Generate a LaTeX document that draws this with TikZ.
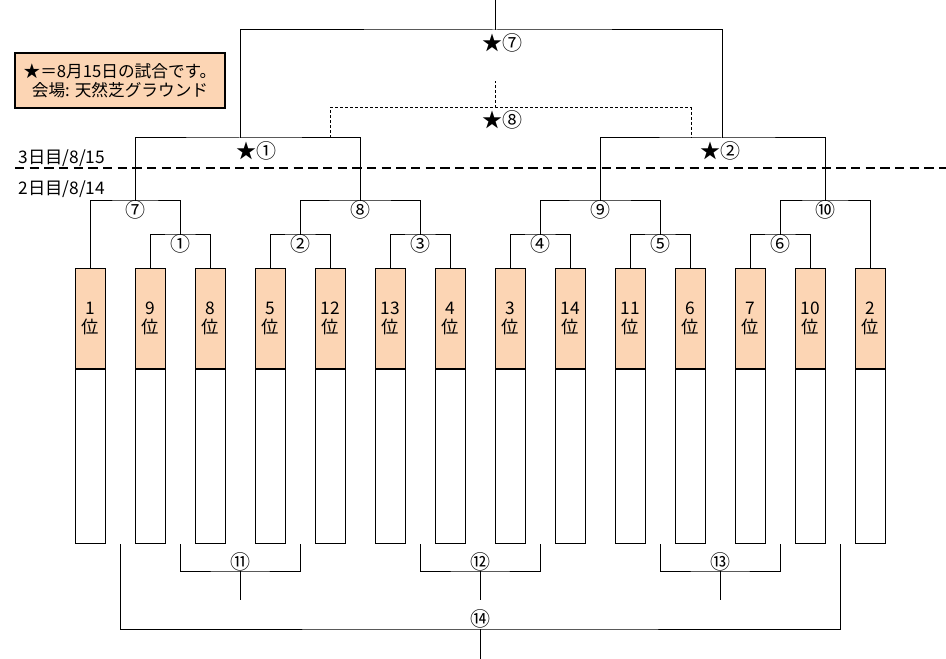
\documentclass[tikz,border=0pt]{standalone}
\usepackage{fontspec}
\setmainfont{Noto Sans CJK JP}
\usetikzlibrary{calc}
\definecolor{peach}{RGB}{252,213,180}
\begin{document}
\begin{tikzpicture}[x=0.75pt,y=-0.75pt,line width=0.75pt,
  rankbox/.style={draw,fill=peach,anchor=north,minimum width=22.5pt,minimum height=75pt,inner sep=0pt,align=center,font=\fontsize{13}{14}\selectfont},
  blankbox/.style={draw,fill=white,anchor=north,minimum width=22.5pt,minimum height=130.5pt,inner sep=0pt},
  lab/.style={inner sep=0pt,font=\fontsize{15}{16}\selectfont},
  daylab/.style={inner sep=0pt,anchor=west,font=\fontsize{13}{14}\selectfont}]
\useasboundingbox (0,0) rectangle (946,659);
% legend
\node[draw,fill=peach,line width=1.5pt,minimum width=157.5pt,minimum height=41.25pt,inner sep=0pt] (legend) at (120,80.5) {};
\node[inner sep=0pt,font=\fontsize{12.5}{13}\selectfont] (leg1) at (120,71) {★＝8月15日の試合です。};
\node[inner sep=0pt,font=\fontsize{12.5}{13}\selectfont] (leg2) at (120,90) {会場: 天然芝グラウンド};
% day separator
\coordinate (dl) at (15,168);
\coordinate (dr) at (946,168);
\draw[line width=1.5pt,dash pattern=on 7pt off 4pt] (dl) -- (dr);
\node[daylab] (d3) at (18,158) {3日目/8/15};
\node[daylab] (d2) at (18,189) {2日目/8/14};
% boxes
\foreach \r [count=\i from 0] in {1,9,8,5,12,13,4,3,14,11,6,7,10,2} {
  \node[rankbox] (r\i) at (90+60*\i,268) {\r\\位};
  \node[blankbox] (w\i) at (r\i.south) {};
}
% first round
\coordinate (m1) at (180,235);
\coordinate (m2) at (300,235);
\coordinate (m3) at (420,235);
\coordinate (m4) at (540,235);
\coordinate (m5) at (660,235);
\coordinate (m6) at (780,235);
\draw (r1.north) |- (m1) -| (r2.north);
\draw (r3.north) |- (m2) -| (r4.north);
\draw (r5.north) |- (m3) -| (r6.north);
\draw (r7.north) |- (m4) -| (r8.north);
\draw (r9.north) |- (m5) -| (r10.north);
\draw (r11.north) |- (m6) -| (r12.north);
% second round
\coordinate (m7) at (135,201);
\coordinate (m8) at (360,201);
\coordinate (m9) at (600,201);
\coordinate (m10) at (825,201);
\draw (r0.north) |- (m7) -| (m1);
\draw (m2) |- (m8) -| (m3);
\draw (m4) |- (m9) -| (m5);
\draw (m6) |- (m10) -| (r13.north);
% semi finals
\coordinate (s1) at (240,138);
\coordinate (s2) at (722,138);
\draw (m7) |- (s1) -| (m8);
\draw (m9) |- (s2) -| (m10);
% final
\coordinate (s7) at (495,30);
\coordinate (top) at (495,0);
\draw (s1) |- (s7) -| (s2);
\draw (s7) -- (top);
% third place (dashed)
\coordinate (d1) at (330,138);
\coordinate (d2) at (691,138);
\coordinate (s8) at (495,108);
\coordinate (s8t) at (495,81);
\draw[dash pattern=on 2.25pt off 1.5pt] (d1) |- (s8) -| (d2);
\draw[dash pattern=on 2.25pt off 1.5pt] (s8) -- (s8t);
% labels top
\node[lab] (l1) at (180,244) {①};
\node[lab] (l2) at (300,244) {②};
\node[lab] (l3) at (420,244) {③};
\node[lab] (l4) at (540,244) {④};
\node[lab] (l5) at (660,244) {⑤};
\node[lab] (l6) at (780,244) {⑥};
\node[lab] (l7) at (135,210) {⑦};
\node[lab] (l8) at (360,210) {⑧};
\node[lab] (l9) at (600,210) {⑨};
\node[lab] (l10) at (825,210) {⑩};
\node[lab] (ls1) at (256,151) {★①};
\node[lab] (ls2) at (720,151) {★②};
\node[lab] (ls7) at (502,43) {★⑦};
\node[lab] (ls8) at (502,120) {★⑧};
% bottom brackets
\coordinate (b11) at (240,571);
\coordinate (b12) at (480,571);
\coordinate (b13) at (720,571);
\coordinate (b14) at (480,629);
\draw ($(w1.south)!.5!(w2.south)$) |- (b11) -| ($(w3.south)!.5!(w4.south)$);
\draw ($(w5.south)!.5!(w6.south)$) |- (b12) -| ($(w7.south)!.5!(w8.south)$);
\draw ($(w9.south)!.5!(w10.south)$) |- (b13) -| ($(w11.south)!.5!(w12.south)$);
\draw ($(w0.south)!.5!(w1.south)$) |- (b14) -| ($(w12.south)!.5!(w13.south)$);
\coordinate (b11e) at (240,600);
\coordinate (b12e) at (480,600);
\coordinate (b13e) at (720,600);
\coordinate (b14e) at (480,659);
\draw (b11) -- (b11e);
\draw (b12) -- (b12e);
\draw (b13) -- (b13e);
\draw (b14) -- (b14e);
\node[lab] (l11) at (240,562) {⑪};
\node[lab] (l12) at (480,562) {⑫};
\node[lab] (l13) at (720,562) {⑬};
\node[lab] (l14) at (480,619) {⑭};
\end{tikzpicture}
\end{document}
